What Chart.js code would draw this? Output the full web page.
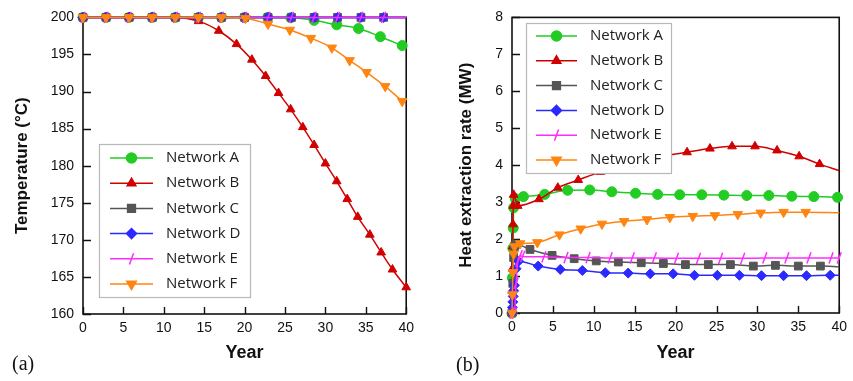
<!DOCTYPE html>
<html lang="en">
<head>
<meta charset="UTF-8">
<title>Outlet temperature and heat extraction rate</title>
<script src="https://cdn.jsdelivr.net/npm/chart.js"></script>
<style>
  body { margin: 0; background: #fff; width: 853px; height: 381px; overflow: hidden; position: relative; }
  #leftChart { position: absolute; left: 0; top: 0; }
  #rightChart { position: absolute; left: 430px; top: 0; }
  .tag { position: absolute; font-family: "Liberation Serif", "DejaVu Serif", serif; font-size: 20px; color: #111; line-height: 20px; }
</style>
</head>
<body>
<canvas id="leftChart" width="420" height="381"></canvas>
<canvas id="rightChart" width="423" height="381"></canvas>
<div class="tag" style="left:12px; top:353px;">(a)</div>
<div class="tag" style="left:456px; top:354px;">(b)</div>

<script>
// ---- data ----
const names = ['Network A', 'Network B', 'Network C', 'Network D', 'Network E', 'Network F'];

// (a) outlet temperature, degC
const tempYearsA = [0, 2.86, 5.71, 8.57, 11.43, 14.29, 17.14, 20, 22.86, 25.71, 28.6, 31.4, 34.1, 36.8, 39.5];
const tempA      = [200, 200, 200, 200, 200, 200, 200, 200, 200, 199.95, 199.6, 199.0, 198.5, 197.4, 196.2];
const tempYearsB = [0, 2.86, 5.71, 8.57, 11.43, 14.3, 16.8, 19.0, 20.9, 22.6, 24.2, 25.7, 27.2, 28.6, 30.0, 31.4, 32.7, 34.0, 35.5, 36.9, 38.3, 40];
const tempB      = [200, 200, 200, 200, 200, 199.5, 198.2, 196.4, 194.3, 192.1, 189.8, 187.6, 185.2, 182.8, 180.3, 177.9, 175.5, 173.1, 170.7, 168.3, 166.0, 163.6];
const tempYearsCDE = [0, 2.86, 5.71, 8.57, 11.43, 14.29, 17.14, 20, 22.9, 25.8, 28.6, 31.5, 34.4, 37.2, 40];
const tempC      = [200, 200, 200, 200, 200, 200, 200, 200, 200, 200, 200, 200, 200, 200, 200];
const tempD      = [200, 200, 200, 200, 200, 200, 200, 200, 200, 200, 200, 200, 200, 200, 200];
const tempE      = [200, 200, 200, 200, 200, 200, 200, 200, 200, 200, 200, 200, 200, 200, 200];
const tempYearsF = [0, 2.86, 5.71, 8.57, 11.43, 14.29, 17.14, 20.1, 22.9, 25.6, 28.2, 30.8, 33.0, 35.1, 37.4, 39.5];
const tempF      = [200, 200, 200, 200, 200, 200, 200, 199.9, 199.1, 198.3, 197.2, 195.9, 194.2, 192.6, 190.7, 188.7];

// (b) heat extraction rate, MW
const heatYearsA = [0, 0.05, 0.1, 0.15, 0.2, 0.4, 1.4, 4.0, 6.8, 9.5, 12.2, 15.1, 17.8, 20.5, 23.2, 25.9, 28.7, 31.4, 34.2, 36.9, 39.8];
const heatA      = [0, 0.95, 1.75, 2.3, 2.85, 3.1, 3.15, 3.21, 3.32, 3.33, 3.28, 3.24, 3.21, 3.2, 3.2, 3.19, 3.18, 3.18, 3.16, 3.15, 3.13];
const heatYearsB = [0, 0.03, 0.06, 0.09, 0.12, 0.15, 0.2, 0.7, 3.3, 5.6, 8.1, 10.8, 13.5, 16.2, 19.0, 21.4, 24.2, 26.9, 29.7, 32.4, 35.1, 37.6, 40];
const heatB      = [0, 0.6, 1.2, 1.8, 2.4, 2.9, 3.2, 2.9, 3.08, 3.39, 3.6, 3.82, 4.0, 4.15, 4.27, 4.35, 4.45, 4.51, 4.51, 4.4, 4.24, 4.03, 3.85];
const heatYearsC = [0, 0.1, 0.2, 0.3, 0.5, 2.2, 4.9, 7.6, 10.3, 13.0, 15.8, 18.5, 21.2, 24.0, 26.7, 29.5, 32.2, 35.0, 37.7, 40];
const heatC      = [0, 0.8, 1.5, 1.8, 1.86, 1.72, 1.56, 1.47, 1.41, 1.38, 1.36, 1.34, 1.31, 1.31, 1.31, 1.27, 1.29, 1.27, 1.27, 1.25];
const heatYearsD = [0, 0.05, 0.1, 0.15, 0.2, 0.3, 0.5, 0.8, 3.2, 5.9, 8.6, 11.4, 14.2, 16.9, 19.7, 22.3, 25.1, 27.8, 30.5, 33.2, 36.0, 38.9, 40];
const heatD      = [0, 0.15, 0.3, 0.45, 0.6, 0.75, 1.2, 1.4, 1.27, 1.18, 1.15, 1.09, 1.08, 1.06, 1.06, 1.02, 1.02, 1.02, 1.01, 1.01, 1.01, 1.02, 1.02];
const heatYearsE = [0, 0.3, 0.5, 0.7, 1.0, 1.3, 3.9, 6.6, 9.3, 12.0, 14.7, 17.4, 20.1, 22.8, 25.5, 28.2, 30.9, 33.6, 36.3, 39.0, 40];
const heatE      = [0, 0, 0.8, 1.4, 1.55, 1.53, 1.52, 1.5, 1.5, 1.49, 1.49, 1.49, 1.48, 1.48, 1.48, 1.48, 1.49, 1.49, 1.49, 1.49, 1.49];
const heatYearsF = [0, 0.05, 0.1, 0.2, 0.3, 1.0, 3.1, 5.8, 8.4, 11.0, 13.7, 16.5, 19.3, 22.1, 24.8, 27.6, 30.4, 33.2, 35.9, 40];
const heatF      = [0, 0.5, 1.1, 1.6, 1.8, 1.88, 1.91, 2.12, 2.28, 2.41, 2.48, 2.53, 2.59, 2.62, 2.64, 2.67, 2.71, 2.73, 2.73, 2.71];

const xTicks = [0, 5, 10, 15, 20, 25, 30, 35, 40];
const tempTicks = [160, 165, 170, 175, 180, 185, 190, 195, 200];
const heatTicks = [0, 1, 2, 3, 4, 5, 6, 7, 8];

// ---- styles ----
const colors = ['#22cc22', '#d10000', '#555555', '#2a2aff', '#ff2cff', '#ff8512'];
const markers = [
    { pointStyle: 'circle', radius: 5, rotation: 0 },
    { pointStyle: 'triangle', radius: 5, rotation: 0 },
    { pointStyle: 'rect', radius: 5.5, rotation: 0 },
    { pointStyle: 'rectRot', radius: 5, rotation: 0 },
    { pointStyle: 'line', radius: 6, rotation: -70 },
    { pointStyle: 'triangle', radius: 5.5, rotation: 180 }
];

function pts(xs, ys) {
    return xs.map((x, i) => ({ x: x, y: ys[i] }));
}

function makeDatasets(seriesList, hideLast) {
    return seriesList.map((data, i) => ({
        label: names[i],
        data: data,
        borderColor: colors[i],
        backgroundColor: colors[i],
        borderWidth: 1.5,
        pointStyle: markers[i].pointStyle,
        rotation: markers[i].rotation,
        pointBorderWidth: i === 4 ? 1.5 : 1,
        pointRadius: c => (hideLast[i] && c.dataIndex === data.length - 1) ? 0 : markers[i].radius,
        pointHoverRadius: markers[i].radius,
        cubicInterpolationMode: 'monotone',
        clip: false,
        order: 6 - i
    }));
}

// frame + inward tick marks, drawn under the data
const framePlugin = {
    id: 'frame',
    beforeDatasetsDraw(chart) {
        const { ctx, chartArea: a, scales } = chart;
        ctx.save();
        ctx.strokeStyle = '#111';
        ctx.lineWidth = 1.6;
        ctx.strokeRect(a.left, a.top, a.right - a.left, a.bottom - a.top);
        ctx.lineWidth = 1.4;
        ctx.beginPath();
        scales.x.ticks.forEach(t => {
            const px = Math.round(scales.x.getPixelForValue(t.value)) + 0.5;
            ctx.moveTo(px, a.bottom);
            ctx.lineTo(px, a.bottom - 7);
        });
        scales.y.ticks.forEach(t => {
            const py = Math.round(scales.y.getPixelForValue(t.value)) + 0.5;
            ctx.moveTo(a.left, py);
            ctx.lineTo(a.left + 8, py);
        });
        ctx.stroke();
        ctx.restore();
    }
};

// legend box inside the plot, drawn over the data
const boxLegend = {
    id: 'boxLegend',
    afterDatasetsDraw(chart, args, opts) {
        const ctx = chart.ctx;
        ctx.save();
        ctx.fillStyle = '#fff';
        ctx.fillRect(opts.x, opts.y, opts.w, opts.h);
        ctx.strokeStyle = '#b8b8b8';
        ctx.lineWidth = 1.2;
        ctx.strokeRect(opts.x + 0.5, opts.y + 0.5, opts.w, opts.h);
        ctx.font = '15px "Open Sans", sans-serif';
        ctx.textBaseline = 'middle';
        names.forEach((name, i) => {
            const y = opts.firstRow + i * opts.rowGap;
            ctx.strokeStyle = colors[i];
            ctx.fillStyle = colors[i];
            ctx.lineWidth = 1.5;
            ctx.beginPath();
            ctx.moveTo(opts.lineX1, y);
            ctx.lineTo(opts.lineX2, y);
            ctx.stroke();
            Chart.helpers.drawPoint(ctx, {
                pointStyle: markers[i].pointStyle,
                radius: markers[i].radius,
                rotation: markers[i].rotation,
                borderWidth: i === 4 ? 1.5 : 1
            }, (opts.lineX1 + opts.lineX2) / 2, y);
            ctx.fillStyle = '#222';
            ctx.fillText(name, opts.textX, y);
        });
        ctx.restore();
    }
};

const tickFont = { family: '"Liberation Sans", Arial, sans-serif', size: 14 };
const titleFont = { family: '"Liberation Sans", Arial, sans-serif', size: 18, weight: 'bold' };

function makeChart(id, datasets, yMin, yMax, yStep, yTitle, yTitlePad, yWidth, xHeight, legendOpts, padRight) {
    return new Chart(document.getElementById(id), {
        type: 'line',
        data: { datasets: datasets },
        plugins: [framePlugin, boxLegend],
        options: {
            responsive: false,
            animation: false,
            layout: { padding: { top: 13, right: padRight, bottom: 0, left: 0 } },
            plugins: {
                legend: { display: false },
                tooltip: { enabled: false },
                boxLegend: legendOpts
            },
            scales: {
                x: {
                    type: 'linear',
                    min: xTicks[0],
                    max: xTicks[xTicks.length - 1],
                    afterBuildTicks: s => { s.ticks = xTicks.map(v => ({ value: v })); },
                    ticks: { padding: 6, color: '#111', font: tickFont, maxRotation: 0 },
                    grid: { display: false, drawTicks: false },
                    border: { display: false },
                    title: { display: true, text: 'Year', color: '#111', font: titleFont, padding: { top: 0, bottom: 17 } },
                    afterFit: s => { s.height = xHeight; }
                },
                y: {
                    min: yMin,
                    max: yMax,
                    ticks: { stepSize: yStep, padding: 9, color: '#111', font: tickFont },
                    grid: { display: false, drawTicks: false },
                    border: { display: false },
                    title: { display: true, text: yTitle, color: '#111', font: { ...titleFont, size: 17 }, padding: { top: yTitlePad, bottom: 0 } },
                    afterFit: s => { s.width = yWidth; }
                }
            }
        }
    });
}

const leftSets = makeDatasets([
    pts(tempYearsA, tempA), pts(tempYearsB, tempB), pts(tempYearsCDE, tempC),
    pts(tempYearsCDE, tempD), pts(tempYearsCDE, tempE), pts(tempYearsF, tempF)
], [false, false, true, true, true, false]);

const rightSets = makeDatasets([
    pts(heatYearsA, heatA), pts(heatYearsB, heatB), pts(heatYearsC, heatC),
    pts(heatYearsD, heatD), pts(heatYearsE, heatE), pts(heatYearsF, heatF)
], [false, true, true, true, false, true]);

makeChart('leftChart', leftSets, tempTicks[0], tempTicks[tempTicks.length - 1], 5,
    'Temperature (°C)', 12, 83, 67,
    { x: 99, y: 144, w: 151, h: 153, firstRow: 158, rowGap: 25.2, lineX1: 110, lineX2: 153, textX: 166 }, 13);

makeChart('rightChart', rightSets, heatTicks[0], heatTicks[heatTicks.length - 1], 1,
    'Heat extraction rate (MW)', 26, 82, 68,
    { x: 96, y: 23, w: 145, h: 150, firstRow: 36, rowGap: 24.8, lineX1: 106, lineX2: 147, textX: 160 }, 10);
</script>
</body>
</html>
